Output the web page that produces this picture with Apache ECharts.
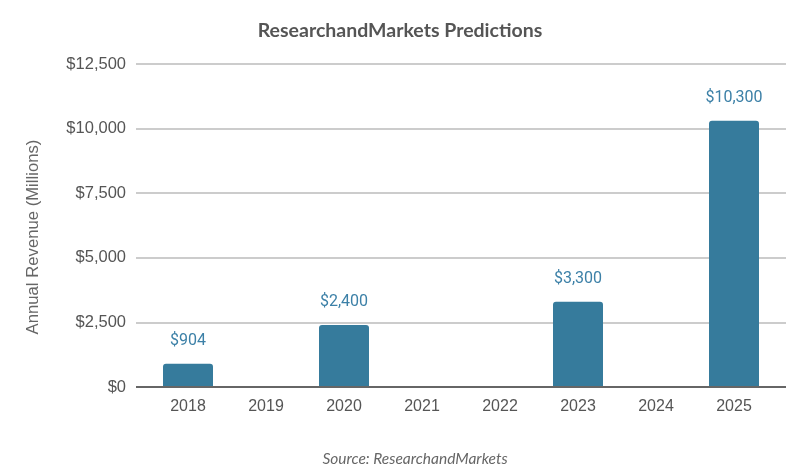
<!DOCTYPE html>
<html><head><meta charset="utf-8">
<script src="https://cdn.jsdelivr.net/npm/echarts@6/dist/echarts.min.js"></script>
<style>html,body{margin:0;padding:0;background:#fff}#c{width:800px;height:469px}</style>
</head><body><div id="c"></div>
<script>
const categories = ['2018','2019','2020','2021','2022','2023','2024','2025'];
const revenue = [904, null, 2400, null, null, 3300, null, 10300];
const yTicks = [0, 2500, 5000, 7500, 10000, 12500];
const yAxisTitle = 'Annual Revenue (Millions)';

const chart = echarts.init(document.getElementById('c'), null, {renderer:'canvas'});
const fmt = v => '$' + Number(v).toLocaleString('en-US');
chart.setOption({
  animation:false,
  backgroundColor:'#fff',
  title:[{text:'ResearchandMarkets Predictions',left:'center',top:16,
    textStyle:{fontFamily:'Lato',fontWeight:'bold',fontSize:19.5,color:'#555'}},
    {text:'Source: ResearchandMarkets',left:410,textAlign:'center',top:446,
    textStyle:{fontFamily:'Lato',fontStyle:'italic',fontWeight:'normal',fontSize:15.5,color:'#666'}}],
  graphic:[{type:'text',x:33,y:237,rotation:Math.PI/2,
    style:{text:yAxisTitle,fontFamily:'Liberation Sans',fontSize:16.7,fill:'#666',align:'center',verticalAlign:'middle'}}],
  grid:[{left:136,right:14,top:64,height:323},{left:149,width:624,top:64,height:323}],
  xAxis:[{gridIndex:0,type:'value',min:0,max:1,show:false},
    {gridIndex:1,type:'category',data:categories,
     axisLine:{show:false},axisTick:{show:false},
     axisLabel:{fontFamily:'Liberation Sans',fontSize:16,color:'#555',margin:12}}],
  yAxis:[{gridIndex:0,type:'value',min:yTicks[0],max:yTicks[yTicks.length-1],interval:2500,
     axisLine:{show:false},axisTick:{show:false},
     axisLabel:{formatter:fmt,fontFamily:'Liberation Sans',fontSize:16.5,color:'#555',margin:10},
     splitLine:{lineStyle:{color:'#cccccc',width:2}}},
    {gridIndex:1,type:'value',min:yTicks[0],max:yTicks[yTicks.length-1],interval:2500,show:false,splitLine:{show:false}}],
  series:[
    {type:'line',xAxisIndex:0,yAxisIndex:0,data:[[0,0],[1,0]],symbol:'none',
     lineStyle:{color:'#666',width:2},silent:true,z:5},
    {type:'bar',xAxisIndex:1,yAxisIndex:1,data:revenue,barWidth:50,
     itemStyle:{color:'#367b9c',borderRadius:[3,3,0,0]},
     label:{show:true,position:'top',distance:15,formatter:p=>fmt(p.value),
       fontFamily:'Roboto',fontSize:16,color:'#3c80a7'}}
  ]
});
</script></body></html>
